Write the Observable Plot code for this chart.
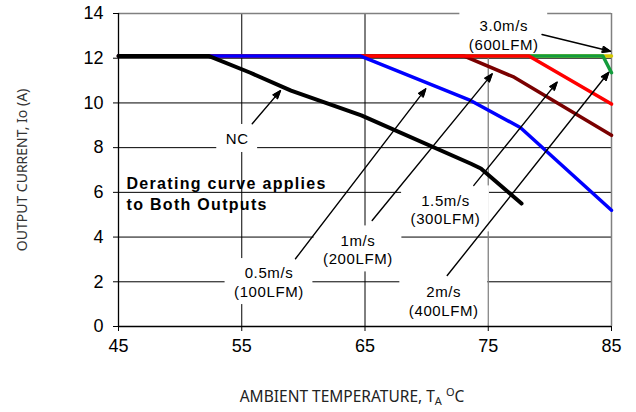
<!DOCTYPE html>
<html><head><meta charset="utf-8">
<script src="https://cdn.jsdelivr.net/npm/d3@7"></script>
<script src="https://cdn.jsdelivr.net/npm/@observablehq/plot@0.6"></script>
<style>body{margin:0;background:#fff}</style>
</head><body><div id="chart"></div>
<script>
// ---- data ----
const xTicks = [45, 55, 65, 75, 85];
const yTicks = [0, 2, 4, 6, 8, 10, 12, 14];

const ncTemp = [45, 52.3, 55.7, 59.0, 64.7, 73.6, 74.4, 77.7];
const ncCurrent = [12.1, 12.1, 11.35, 10.55, 9.44, 7.28, 7.07, 5.5];
const lfm100Temp = [45, 64.6, 73.6, 77.6, 85];
const lfm100Current = [12.1, 12.1, 10.1, 8.9, 5.2];
const lfm200Temp = [45, 73.0, 77.1, 85];
const lfm200Current = [12.1, 12.1, 11.15, 8.55];
const lfm300Temp = [45, 78.3, 85];
const lfm300Current = [12.1, 12.1, 9.95];
const lfm400Temp = [45, 84.3, 85];
const lfm400Current = [12.1, 12.1, 11.35];
const lfm600Temp = [45, 85];
const lfm600Current = [12.1, 12.1];

const labelText = ["NC", "0.5m/s\n(100LFM)", "1m/s\n(200LFM)", "1.5m/s\n(300LFM)", "2m/s\n(400LFM)", "3.0m/s\n(600LFM)"];
const labelTemp = [54.63, 57.21, 64.43, 71.53, 71.39, 76.26];
const labelCurrent = [8.41, 2.01, 3.47, 5.26, 1.16, 13.05];

const arrowFromTemp = [55.85, 59.36, 65.58, 73.83, 71.67, 79.36];
const arrowFromCurrent = [9.07, 3.03, 4.74, 6.31, 2.28, 13.06];
const arrowToTemp = [58.14, 69.93, 75.32, 80.59, 84.78, 84.92];
const arrowToCurrent = [10.55, 10.63, 11.3, 10.93, 11.37, 12.31];

const noteText = "Derating curve applies\nto Both Outputs";
const noteTemp = 45.65;
const noteCurrent = 5.97;

const xTitle = "AMBIENT TEMPERATURE, TA OC";
const yTitle = "OUTPUT CURRENT, Io (A)";

// ---- build ----
const series = [
  {temp: lfm600Temp, cur: lfm600Current, color: "#d4c800", w: 3.5},
  {temp: lfm400Temp, cur: lfm400Current, color: "#139c3c", w: 3.5},
  {temp: lfm200Temp, cur: lfm200Current, color: "#7a0000", w: 3.5},
  {temp: lfm300Temp, cur: lfm300Current, color: "#ff0000", w: 3.5},
  {temp: lfm100Temp, cur: lfm100Current, color: "#0000ff", w: 3.5},
  {temp: ncTemp, cur: ncCurrent, color: "#000000", w: 4}
];
const lineMarks = series.map(s => Plot.line(s.temp.map((t, i) => ({t, c: s.cur[i]})),
  {x: "t", y: "c", stroke: s.color, strokeWidth: s.w, strokeLinejoin: "round"}));

const labels = labelText.map((text, i) => ({text, t: labelTemp[i], c: labelCurrent[i]}));
const ctx = document.createElement("canvas").getContext("2d");
ctx.font = "15px 'Liberation Sans'";
const boxMarks = labels.map(d => {
  const lines = d.text.split("\n");
  const w = Math.max(...lines.map(l => ctx.measureText(l).width + l.length * 0.6)) + 18;
  const h = lines.length * 18 + 10;
  return Plot.rect([d], {x1: "t", x2: "t", y1: "c", y2: "c", fill: "white",
    insetLeft: -w / 2, insetRight: -w / 2, insetTop: -h / 2, insetBottom: -h / 2});
});

const arrows = arrowFromTemp.map((t, i) => ({x1: t, y1: arrowFromCurrent[i], x2: arrowToTemp[i], y2: arrowToCurrent[i]}));

const chart = Plot.plot({
  width: 636, height: 412,
  marginLeft: 118, marginRight: 25, marginTop: 13, marginBottom: 86,
  style: {fontFamily: "'Liberation Sans', Arial, sans-serif", fontSize: "18px", color: "#000", background: "#fff", overflow: "visible"},
  x: {domain: [45, 85], ticks: xTicks, tickSize: 5, tickPadding: 8, label: null},
  y: {domain: [0, 14], ticks: yTicks, tickSize: 5, tickPadding: 10, label: null},
  marks: [
    Plot.ruleY(yTicks.slice(1, -1), {stroke: "#000", strokeWidth: 1}),
    Plot.ruleX(xTicks.slice(1, 3), {stroke: "#000", strokeWidth: 1}),
    Plot.ruleX(xTicks.slice(3, 4), {stroke: "#808080", strokeWidth: 1.3}),
    Plot.ruleY(yTicks.slice(-1), {stroke: "#808080", strokeWidth: 1.5}),
    Plot.ruleX(xTicks.slice(-1), {stroke: "#808080", strokeWidth: 1.5}),
    Plot.ruleX(xTicks.slice(0, 1), {stroke: "#000", strokeWidth: 1.3}),
    Plot.ruleY(yTicks.slice(0, 1), {stroke: "#000", strokeWidth: 1.3}),
    ...boxMarks,
    ...lineMarks,
    Plot.arrow(arrows, {x1: "x1", y1: "y1", x2: "x2", y2: "y2", stroke: "#000", strokeWidth: 1.4, headLength: 9, headAngle: 40}),
    Plot.text(labels, {x: "t", y: "c", text: "text", fontSize: 15, lineHeight: 1.22, fill: "#000"}),
    Plot.text([noteText], {x: () => noteTemp, y: () => noteCurrent, text: d => d, textAnchor: "start", fontWeight: "bold", fontSize: 16, lineHeight: 1.3, fill: "#000"}),
    Plot.text([yTitle], {frameAnchor: "left", dx: -96, rotate: -90, textAnchor: "middle", lineAnchor: "middle", fontFamily: "'Noto Sans', sans-serif", fontSize: 14, fill: "#333"}),
    Plot.text([xTitle], {frameAnchor: "bottom", dy: 71, dx: -13, textAnchor: "middle", lineAnchor: "middle", fontFamily: "'Noto Sans', sans-serif", fontSize: 15.5, fill: "#222"})
  ]
});
document.getElementById("chart").appendChild(chart);

const NS = "http://www.w3.org/2000/svg";
chart.querySelectorAll("text").forEach(el => {
  const tc = el.textContent;
  if (tc === xTitle) {
    el.textContent = "";
    const parts = [["AMBIENT TEMPERATURE, T", null, 0], ["A", 11, 3], [" ", null, -3], ["O", 11, -6], ["C", null, 6]];
    parts.forEach(([s, fs, dy]) => {
      const t = document.createElementNS(NS, "tspan");
      t.textContent = s;
      if (fs) t.setAttribute("font-size", fs);
      if (dy) t.setAttribute("dy", dy);
      el.appendChild(t);
    });
  } else if (tc.startsWith("Derating")) {
    el.setAttribute("letter-spacing", "1.3");
  } else if (labelText.some(l => l.replace("\n", "") === tc)) {
    el.setAttribute("letter-spacing", "0.6");
  }
});

// filled arrowheads, taken from the arrow mark's own geometry
chart.querySelectorAll('g[aria-label="arrow"] path').forEach(p => {
  const n = (p.getAttribute("d").match(/-?\d*\.?\d+(?:e-?\d+)?/g) || []).map(Number);
  if (n.length < 6) return;
  const [ax, ay, tx, ty, bx, by] = n.slice(-6);
  const head = document.createElementNS(NS, "path");
  head.setAttribute("d", `M${ax},${ay}L${tx},${ty}L${bx},${by}Z`);
  head.setAttribute("fill", "#000");
  head.setAttribute("stroke", "#000");
  head.setAttribute("stroke-width", "1");
  p.parentNode.appendChild(head);
});
</script>
</body></html>
